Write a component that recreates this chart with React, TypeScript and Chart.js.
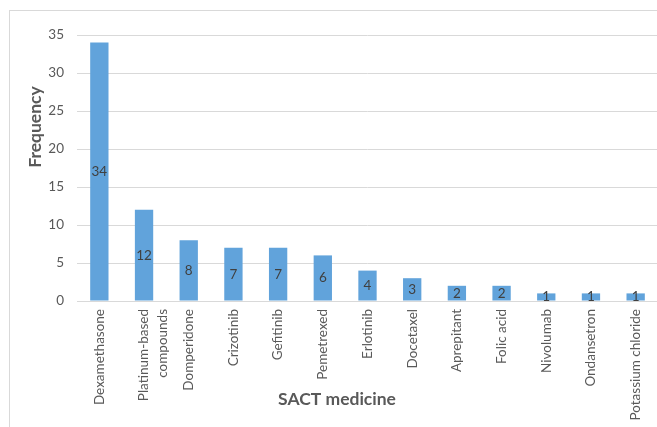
import React, { useEffect, useRef } from "react";
import { Chart, registerables } from "chart.js";

Chart.register(...registerables);

const categories: (string | string[])[] = [
  "Dexamethasone",
  ["Platinum-based", "compounds"],
  "Domperidone",
  "Crizotinib",
  "Gefitinib",
  "Pemetrexed",
  "Erlotinib",
  "Docetaxel",
  "Aprepitant",
  "Folic acid",
  "Nivolumab",
  "Ondansetron",
  "Potassium chloride",
];
const frequencies: number[] = [34, 12, 8, 7, 7, 6, 4, 3, 2, 2, 1, 1, 1];
const yTicks = { min: 0, max: 35, step: 5 };
const xTitle = "SACT medicine";
const yTitle = "Frequency";

const FONT = "Lato, 'Open Sans', sans-serif";
const TEXT = "#595959";

const decorPlugin = {
  id: "decor",
  beforeDraw(chart: any) {
    const ctx = chart.ctx;
    ctx.save();
    ctx.fillStyle = "#ffffff";
    ctx.fillRect(0, 0, chart.width, chart.height);
    ctx.strokeStyle = "#D9D9D9";
    ctx.lineWidth = 1;
    ctx.strokeRect(9.5, 10.5, chart.width + 20, chart.height + 20);
    ctx.restore();
  },
  afterDraw(chart: any) {
    const ctx = chart.ctx;
    ctx.save();
    ctx.fillStyle = TEXT;
    ctx.font = `bold 17.5px ${FONT}`;
    ctx.textAlign = "center";
    ctx.textBaseline = "middle";
    ctx.fillText(xTitle, 337, 399);
    ctx.translate(35, 127);
    ctx.rotate(-Math.PI / 2);
    ctx.fillText(yTitle, 0, 0);
    ctx.restore();
  },
};

const labelPlugin = {
  id: "barLabels",
  afterDatasetsDraw(chart: any) {
    const ctx = chart.ctx;
    const meta = chart.getDatasetMeta(0);
    ctx.save();
    ctx.fillStyle = "#404040";
    ctx.font = `13.5px ${FONT}`;
    ctx.textAlign = "center";
    ctx.textBaseline = "middle";
    meta.data.forEach((bar: any, i: number) => {
      const y = (bar.y + bar.base) / 2;
      ctx.fillText(String(frequencies[i]), bar.x, y);
    });
    ctx.restore();
  },
};

export default function App() {
  const ref = useRef<HTMLCanvasElement>(null);
  useEffect(() => {
    if (!ref.current) return;
    const chart = new Chart(ref.current, {
      type: "bar",
      data: {
        labels: categories,
        datasets: [
          {
            data: frequencies,
            backgroundColor: "#61A3DB",
            borderWidth: 0,
            categoryPercentage: 1,
            barPercentage: 0.41,
          },
        ],
      },
      options: {
        animation: false,
        responsive: false,
        maintainAspectRatio: false,
        devicePixelRatio: 1,
        layout: { padding: { top: 35, right: 12, left: 0, bottom: 0 } },
        plugins: { legend: { display: false }, tooltip: { enabled: false } },
        scales: {
          x: {
            grid: { display: false, drawTicks: false },
            border: { color: "#D9D9D9" },
            ticks: {
              color: TEXT,
              font: { family: FONT, size: 13.5, lineHeight: 1.35 },
              maxRotation: 90,
              minRotation: 90,
              padding: 8,
              autoSkip: false,
            },
            afterFit: (s: any) => {
              s.height = 126;
            },
          },
          y: {
            min: yTicks.min,
            max: yTicks.max,
            grid: { color: "#D9D9D9", drawTicks: false },
            border: { display: false },
            ticks: {
              stepSize: yTicks.step,
              color: TEXT,
              font: { family: FONT, size: 13.5 },
              padding: 13,
            },
            afterFit: (s: any) => {
              s.width = 77;
            },
          },
        },
      },
      plugins: [decorPlugin, labelPlugin],
    });
    return () => chart.destroy();
  }, []);
  return (
    <div
      style={{
        position: "absolute",
        left: 0,
        top: 0,
        width: 657,
        height: 427,
        overflow: "hidden",
        background: "#fff",
      }}
    >
      <canvas ref={ref} width={670} height={427} style={{ width: 670, height: 427, display: "block" }} />
    </div>
  );
}
